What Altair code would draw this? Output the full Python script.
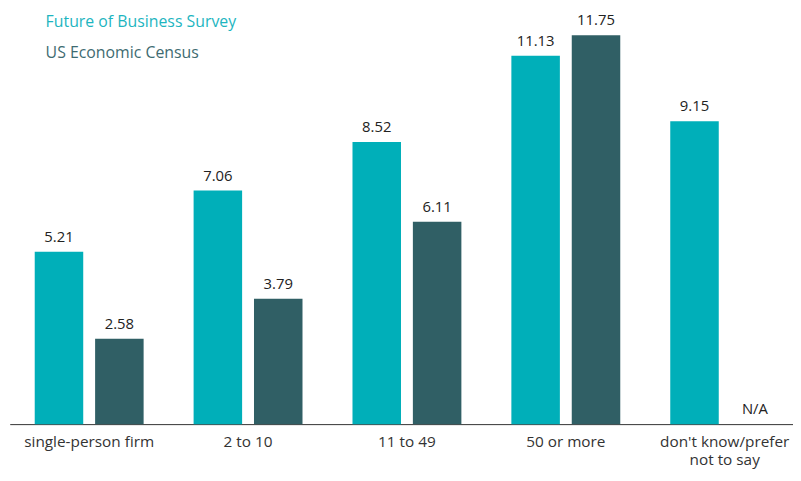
import altair as alt
import pandas as pd

categories = ["single-person firm", "2 to 10", "11 to 49", "50 or more", "don't know/prefer|not to say"]
series = ["Future of Business Survey", "US Economic Census"]
fbs_values = [5.21, 7.06, 8.52, 11.13, 9.15]
census_values = [2.58, 3.79, 6.11, 11.75, None]
colors = ["#00AFB9", "#305F65"]
legend_colors = ["#1DB5BF", "#3E6B71"]

rows = []
for c, a, b in zip(categories, fbs_values, census_values):
    for s, v in zip(series, [a, b]):
        rows.append({
            "cat": c,
            "series": s,
            "value": v,
            "label": f"{v:.2f}" if v is not None else "N/A",
            "ypos": v if v is not None else 0,
        })
df = pd.DataFrame(rows)

FONT = "Open Sans"
W = 793

x = alt.X(
    "cat:N",
    sort=categories,
    scale=alt.Scale(range=[1.75, 804.25], paddingInner=0, paddingOuter=0),
    axis=alt.Axis(
        title=None, labelAngle=0, ticks=False, domainColor="#333333", domainWidth=1,
        labelFontSize=15.5, labelColor="#333333", labelPadding=11, labelFont=FONT,
        labelExpr="split(datum.label, '|')", labelLineHeight=18, labelBaseline="top",
    ),
)
xo = alt.XOffset("series:N", sort=series,
                 scale=alt.Scale(paddingInner=12 / 61, paddingOuter=25.25 / 61))
y_scale = alt.Scale(domain=[0, 12.5])

bars = alt.Chart(df).mark_bar().encode(
    x=x, xOffset=xo,
    y=alt.Y("value:Q", scale=y_scale, axis=None),
    color=alt.Color("series:N", sort=series, scale=alt.Scale(domain=series, range=colors), legend=None),
)

labels = alt.Chart(df).mark_text(baseline="bottom", dy=-7, fontSize=15, font=FONT, color="#222222").encode(
    x=x, xOffset=xo,
    y=alt.Y("ypos:Q", scale=y_scale, axis=None),
    text="label:N",
)

leg1 = alt.Chart(pd.DataFrame({"t": [series[0]]})).mark_text(
    align="left", baseline="middle", fontSize=16, font=FONT, color=legend_colors[0]
).encode(x=alt.value(38), y=alt.value(12), text="t:N")
leg2 = alt.Chart(pd.DataFrame({"t": [series[1]]})).mark_text(
    align="left", baseline="middle", fontSize=16, font=FONT, color=legend_colors[1]
).encode(x=alt.value(38), y=alt.value(43), text="t:N")

chart = alt.layer(bars, labels, leg1, leg2).properties(
    width=W, height=418,
    autosize=alt.AutoSizeParams(type="none"),
    padding={"left": 0, "top": 0, "right": 0, "bottom": 47},
).configure_view(stroke=None)

chart.save("out.html", embed_options={"renderer": "svg", "actions": False})
